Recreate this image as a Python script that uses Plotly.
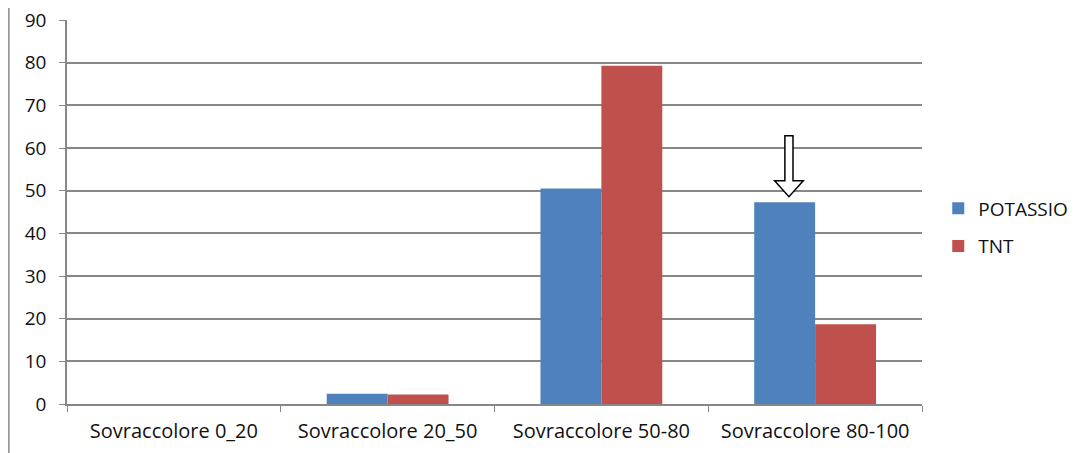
import plotly.graph_objects as go

categories = ["Sovraccolore 0_20", "Sovraccolore 20_50", "Sovraccolore 50-80", "Sovraccolore 80-100"]
potassio = [0, 2.4, 50.5, 47.3]
tnt = [0, 2.2, 79.3, 18.7]
y_ticks = [0, 10, 20, 30, 40, 50, 60, 70, 80, 90]

FONT = "Open Sans"
GRID = "#878787"
BLUE = "#4F81BD"
RED = "#C0504D"
BARGAP = 0.43

fig = go.Figure()
fig.add_trace(go.Bar(name="POTASSIO", x=categories, y=potassio, marker=dict(color=BLUE, line=dict(width=0)),
                     legendgroup="a"))
fig.add_trace(go.Bar(name="TNT", x=categories, y=tnt, marker=dict(color=RED, line=dict(width=0)),
                     legendgroup="b"))

# outlined down arrow above POTASSIO bar of last group
idx = 3
cx = idx - (1 - BARGAP) / 4 + 0.02
top_val = potassio[idx]
tip = top_val + 1.3
head = tip + 3.7
tail = tip + 14.3
sw = 0.019
hw = 0.067
path = (f"M {cx - sw} {tail} L {cx + sw} {tail} L {cx + sw} {head} L {cx + hw} {head} "
        f"L {cx} {tip} L {cx - hw} {head} L {cx - sw} {head} Z")
fig.add_shape(type="path", path=path, xref="x", yref="y", fillcolor="white",
              line=dict(color="black", width=1.5), layer="above")

# chart-area border (left edge visible)
fig.add_shape(type="line", xref="paper", yref="paper", x0=-0.068, x1=-0.068, y0=-0.2, y1=1.1,
              line=dict(color="#8a8a8a", width=1.5))

fig.update_layout(
    width=1071, height=445,
    margin=dict(l=59, r=157, t=12, b=49, autoexpand=False),
    paper_bgcolor="white", plot_bgcolor="white",
    barmode="group", bargap=BARGAP, bargroupgap=0,
    font=dict(family=FONT, size=20, color="#111111"),
    showlegend=True,
    legend=dict(x=1.019, xanchor="left", y=0.46, yanchor="middle", traceorder="grouped",
                tracegroupgap=10, font=dict(size=19), bgcolor="rgba(0,0,0,0)",
                itemwidth=30),
    xaxis=dict(type="category", showgrid=False, showline=True, linecolor=GRID, linewidth=1.5,
               ticks="outside", tickson="boundaries", ticklen=6, tickcolor=GRID,
               tickfont=dict(size=20), automargin=False, fixedrange=True,
               ticklabeloverflow="allow", ticklabelstandoff=8),
    yaxis=dict(range=[0, 90], tickvals=y_ticks, showgrid=True, gridcolor=GRID, gridwidth=1.5,
               showline=True, linecolor=GRID, linewidth=1.5, ticks="outside", ticklen=6,
               tickcolor=GRID, zeroline=False, tickfont=dict(size=19), automargin=False,
               fixedrange=True, ticklabeloverflow="allow", ticklabelstandoff=9),
)

fig.write_html("out.html")
